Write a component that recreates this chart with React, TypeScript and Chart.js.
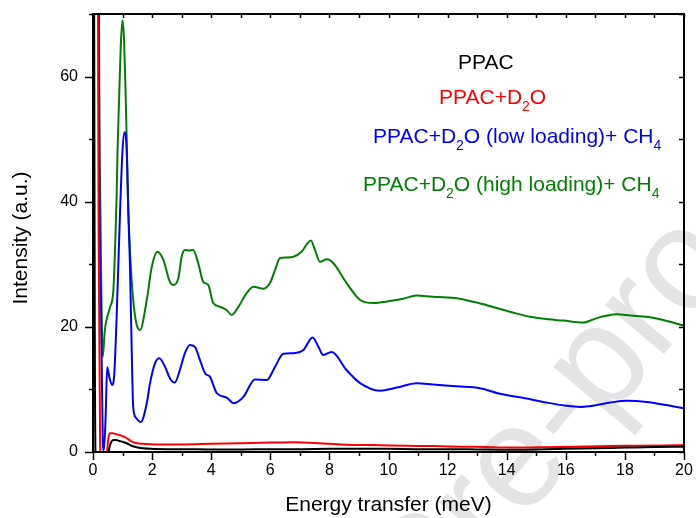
import { useEffect, useRef } from 'react';
import { Chart, registerables } from 'chart.js';

Chart.register(...registerables);

// ---- data ----
const ppacE = [0.02, 0.06, 0.10, 0.30, 0.50, 0.56, 0.62, 0.70, 0.78, 0.90, 1.02, 1.14, 1.30, 1.48, 1.70, 1.95, 2.5, 3.0, 4.0, 5.0, 6.0, 7.0, 8.0, 9.0, 10.0, 11.0, 12.0, 13.0, 14.0, 15.0, 16.0, 17.0, 18.0, 19.0, 20.0];
const ppacI = [120, 20, -3, -3, -1, 0.8, 1.6, 1.9, 1.9, 1.75, 1.6, 1.4, 1.0, 0.75, 0.6, 0.5, 0.45, 0.45, 0.4, 0.4, 0.45, 0.45, 0.5, 0.5, 0.5, 0.45, 0.45, 0.4, 0.35, 0.4, 0.5, 0.6, 0.7, 0.8, 0.85];

const d2oE = [0.14, 0.19, 0.24, 0.30, 0.42, 0.47, 0.52, 0.58, 0.66, 0.75, 0.90, 1.02, 1.14, 1.30, 1.48, 1.70, 1.95, 2.5, 3.0, 4.0, 5.0, 6.0, 6.8, 7.5, 8.0, 8.6, 9.5, 10.6, 11.5, 12.5, 13.3, 14.0, 15.0, 16.25, 17.5, 18.5, 19.3, 20.0];
const d2oI = [120, 35, 2, -3, -3, -0.5, 2.2, 3.0, 3.0, 2.9, 2.7, 2.5, 2.2, 1.7, 1.4, 1.3, 1.25, 1.2, 1.2, 1.3, 1.4, 1.5, 1.55, 1.45, 1.3, 1.15, 1.1, 1.0, 0.95, 0.85, 0.8, 0.7, 0.75, 0.85, 0.95, 1.0, 1.05, 1.1];

const lowE = [0.17, 0.21, 0.27, 0.33, 0.37, 0.43, 0.48, 0.56, 0.65, 0.72, 0.80, 0.91, 1.00, 1.07, 1.14, 1.20, 1.25, 1.31, 1.36, 1.45, 1.62, 1.82, 1.93, 2.10, 2.24, 2.44, 2.60, 2.77, 2.94, 3.11, 3.28, 3.45, 3.62, 3.79, 3.96, 4.19, 4.52, 4.77, 5.09, 5.48, 5.88, 6.16, 6.44, 6.78, 7.12, 7.43, 7.63, 7.79, 8.08, 8.58, 9.04, 9.71, 10.28, 10.95, 11.5, 12.3, 13.1, 13.77, 14.5, 15.35, 16.0, 16.48, 17.05, 17.5, 18.06, 18.74, 19.4, 20.0];
const lowI = [150, 48, 24, 2, 0.3, 6, 13.6, 11.8, 10.7, 12.5, 21.6, 37.6, 48.3, 51.1, 48.3, 37.6, 30, 16.3, 7.2, 5.5, 4.8, 7.8, 11.0, 14.2, 15.0, 13.6, 11.8, 11.1, 13.1, 15.8, 17.1, 16.8, 14.7, 12.6, 12.0, 9.4, 8.7, 7.8, 8.8, 11.6, 11.5, 13.6, 15.7, 15.8, 16.3, 18.3, 16.8, 15.5, 16.0, 13.1, 11.0, 9.8, 10.3, 11.0, 10.8, 10.5, 10.2, 9.3, 8.7, 7.9, 7.4, 7.2, 7.5, 7.9, 8.2, 8.0, 7.5, 7.0];

const highE = [0.16, 0.20, 0.26, 0.33, 0.40, 0.46, 0.58, 0.69, 0.78, 0.80, 0.83, 0.88, 0.94, 1.00, 1.05, 1.10, 1.14, 1.18, 1.25, 1.36, 1.47, 1.59, 1.82, 1.99, 2.18, 2.38, 2.60, 2.72, 2.89, 3.00, 3.11, 3.25, 3.39, 3.56, 3.73, 3.90, 4.07, 4.30, 4.52, 4.69, 4.92, 5.20, 5.43, 5.77, 5.99, 6.16, 6.33, 6.55, 6.78, 7.06, 7.37, 7.51, 7.68, 7.91, 8.13, 8.58, 9.04, 9.49, 10.16, 10.5, 10.95, 11.5, 11.97, 12.4, 12.87, 13.3, 13.66, 14.2, 14.79, 15.4, 15.92, 16.59, 17.05, 17.4, 17.72, 18.2, 18.74, 19.3, 20.0];
const highI = [150, 70, 35, 15.2, 19.5, 21.1, 23.2, 25.9, 37.6, 41, 48, 56, 65, 69, 66, 58, 50, 41, 32.3, 24.3, 20.5, 19.5, 24.3, 29.6, 32.0, 30.7, 27.2, 26.7, 27.8, 31.2, 32.3, 32.2, 32.3, 30.2, 27.2, 26.7, 23.8, 23.2, 22.7, 21.9, 23.2, 25.4, 26.4, 26.1, 27.0, 29.1, 31.0, 31.1, 31.2, 32.0, 33.8, 32.3, 30.4, 30.8, 30.2, 27.0, 24.3, 23.8, 24.2, 24.5, 25.0, 24.8, 24.7, 24.5, 24.0, 23.5, 23.0, 22.3, 21.6, 21.2, 21.0, 20.7, 21.4, 21.8, 22.0, 21.8, 21.6, 21.1, 20.2];

const seriesNames = ['PPAC', 'PPAC+D2O', 'PPAC+D2O (low loading)+ CH4', 'PPAC+D2O (high loading)+ CH4'];
const seriesColors = ['#000000', '#ff0000', '#0000ff', '#008000'];

const xTitle = 'Energy transfer (meV)';
const yTitle = 'Intensity (a.u.)';
const watermarkText = 'Journal Pre-proof';

const FONT = '"Liberation Sans", Arial, sans-serif';

type Seg = { t: string; sub?: boolean };
const legendLines: { segs: Seg[]; x: number; y: number; color: string }[] = [
  { segs: [{ t: 'PPAC' }], x: 458, y: 69, color: seriesColors[0] },
  { segs: [{ t: 'PPAC+D' }, { t: '2', sub: true }, { t: 'O' }], x: 439, y: 104, color: seriesColors[1] },
  { segs: [{ t: 'PPAC+D' }, { t: '2', sub: true }, { t: 'O (low loading)+ CH' }, { t: '4', sub: true }], x: 373, y: 143, color: seriesColors[2] },
  { segs: [{ t: 'PPAC+D' }, { t: '2', sub: true }, { t: 'O (high loading)+ CH' }, { t: '4', sub: true }], x: 363, y: 191, color: seriesColors[3] },
];

const toPts = (xs: number[], ys: number[]) => xs.map((x, i) => ({ x, y: ys[i] }));

const framePlugin = {
  id: 'framePlugin',
  beforeDraw(chart: any) {
    const ctx = chart.ctx as CanvasRenderingContext2D;
    ctx.save();
    const F = 145;
    ctx.font = `${F}px ${FONT}`;
    ctx.fillStyle = '#e4e4e7';
    const before = ctx.measureText('Journal Pre').width;
    const hy = ctx.measureText('-').width;
    ctx.translate(558, 415);
    ctx.rotate((-50 * Math.PI) / 180);
    ctx.textBaseline = 'alphabetic';
    ctx.fillText(watermarkText, -(before + hy / 2), 0.29 * F);
    ctx.restore();
  },
  afterDraw(chart: any) {
    const ctx = chart.ctx as CanvasRenderingContext2D;
    const a = chart.chartArea;
    const xs = chart.scales.x;
    const ys = chart.scales.y;
    ctx.save();
    ctx.strokeStyle = '#000';
    ctx.lineWidth = 1.5;
    ctx.beginPath();
    xs.ticks.forEach((t: any) => {
      const px = Math.round(xs.getPixelForValue(t.value)) + 0.5;
      const major = Math.round(t.value) % 2 === 0;
      ctx.moveTo(px, a.bottom);
      ctx.lineTo(px, a.bottom + (major ? 8 : 4));
      ctx.moveTo(px, a.top);
      ctx.lineTo(px, a.top + 4);
    });
    ys.ticks.forEach((t: any) => {
      const py = Math.round(ys.getPixelForValue(t.value)) + 0.5;
      const major = Math.round(t.value) % 20 === 0;
      ctx.moveTo(a.left, py);
      ctx.lineTo(a.left - (major ? 8 : 4), py);
      ctx.moveTo(a.right, py);
      ctx.lineTo(a.right - 5, py);
    });
    ctx.stroke();
    ctx.lineWidth = 2;
    ctx.strokeRect(a.left, a.top, a.right - a.left, a.bottom - a.top);

    // y axis title
    ctx.save();
    ctx.fillStyle = '#000';
    ctx.font = `21px ${FONT}`;
    ctx.textAlign = 'center';
    ctx.textBaseline = 'middle';
    ctx.translate(21, 238);
    ctx.rotate(-Math.PI / 2);
    ctx.fillText(yTitle, 0, 0);
    ctx.restore();

    // legend texts
    for (const line of legendLines) {
      let cx = line.x;
      ctx.fillStyle = line.color;
      ctx.textBaseline = 'alphabetic';
      ctx.textAlign = 'left';
      for (const s of line.segs) {
        ctx.font = s.sub ? `14px ${FONT}` : `21px ${FONT}`;
        ctx.fillText(s.t, cx, line.y + (s.sub ? 7 : 0));
        cx += ctx.measureText(s.t).width;
      }
    }
    ctx.restore();
  },
};

export default function App() {
  const ref = useRef<HTMLCanvasElement>(null);
  useEffect(() => {
    const mk = (i: number, xs: number[], ys: number[]) => ({
      label: seriesNames[i],
      data: toPts(xs, ys),
      borderColor: seriesColors[i],
      backgroundColor: seriesColors[i],
      borderWidth: 2,
      pointRadius: 0,
      cubicInterpolationMode: 'monotone' as const,
      fill: false,
    });
    const chart = new Chart(ref.current as HTMLCanvasElement, {
      type: 'line',
      data: {
        datasets: [
          mk(0, ppacE, ppacI),
          mk(1, d2oE, d2oI),
          mk(2, lowE, lowI),
          mk(3, highE, highI),
        ],
      },
      options: {
        responsive: false,
        animation: false,
        events: [],
        layout: { padding: { left: 0, right: 12, top: 14, bottom: 0 } },
        plugins: { legend: { display: false }, tooltip: { enabled: false } },
        scales: {
          x: {
            type: 'linear',
            min: 0,
            max: 20,
            afterFit: (s: any) => { s.height = 66; },
            grid: { display: false, drawTicks: true, tickLength: 9 },
            border: { display: false },
            ticks: {
              stepSize: 1,
              autoSkip: false,
              maxRotation: 0,
              padding: 0,
              color: '#000',
              font: { family: FONT, size: 16 },
              callback: (v: any) => (Math.round(v) % 2 === 0 ? String(v) : ''),
            },
            title: {
              display: true,
              text: xTitle,
              color: '#000',
              font: { family: FONT, size: 21 },
              padding: { top: 0, bottom: 0 },
            },
          },
          y: {
            type: 'linear',
            min: 0,
            max: 70,
            afterFit: (s: any) => { s.width = 93; },
            grid: { display: false, drawTicks: true, tickLength: 15 },
            border: { display: false },
            ticks: {
              stepSize: 10,
              autoSkip: false,
              padding: 0,
              color: '#000',
              font: { family: FONT, size: 16 },
              callback: (v: any) => (Math.round(v) % 20 === 0 ? String(v) : ''),
            },
          },
        },
      },
      plugins: [framePlugin],
    });
    return () => chart.destroy();
  }, []);
  return (
    <div style={{ position: 'absolute', left: 0, top: 0, width: 696, height: 518, background: '#fff' }}>
      <canvas ref={ref} width={696} height={518} style={{ display: 'block', width: 696, height: 518 }} />
    </div>
  );
}
